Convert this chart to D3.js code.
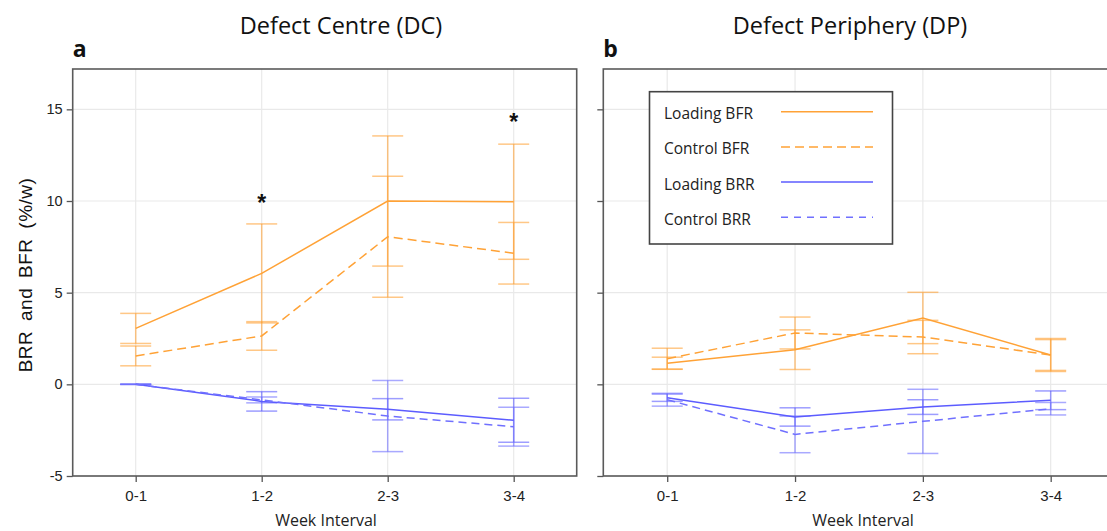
<!DOCTYPE html>
<html><head><meta charset="utf-8">
<script src="https://cdn.jsdelivr.net/npm/d3@7"></script>
<style>body{margin:0;background:#fff}svg{display:block}</style>
</head><body>
<svg id="c" width="1107" height="531"></svg>
<script>
const weeks = ["0-1","1-2","2-3","3-4"];
const yTicks = [-5, 0, 5, 10, 15];
const seriesNames = ["Loading BFR","Control BFR","Loading BRR","Control BRR"];

// Defect Centre (DC)
const dcLoadingBFR = [3.05, 6.05, 10.0, 9.96];
const dcLoadingBFRErr = [0.82, 2.7, 3.55, 3.14];
const dcControlBFR = [1.55, 2.64, 8.05, 7.15];
const dcControlBFRErr = [0.54, 0.78, 3.3, 1.68];
const dcLoadingBRR = [0, -0.93, -1.36, -1.96];
const dcLoadingBRRErr = [0, 0.53, 0.58, 1.2];
const dcControlBRR = [0, -0.85, -1.73, -2.31];
const dcControlBRRErr = [0, 0.16, 1.94, 1.06];
const dcStarWeeks = ["1-2","3-4"];
const dcStarValues = [10.05, 14.45];

// Defect Periphery (DP)
const dpLoadingBFR = [1.15, 1.89, 3.62, 1.6];
const dpLoadingBFRErr = [0.33, 1.08, 1.4, 0.9];
const dpControlBFR = [1.4, 2.8, 2.58, 1.6];
const dpControlBFRErr = [0.57, 0.87, 0.91, 0.84];
const dpLoadingBRR = [-0.73, -1.78, -1.24, -0.87];
const dpLoadingBRRErr = [0.2, 0.5, 0.4, 0.51];
const dpControlBRR = [-0.84, -2.73, -2.02, -1.33];
const dpControlBRRErr = [0.35, 1.0, 1.75, 0.34];

const ORANGE = "#ffa236", BLUE = "#5c5cff";
const styles = [
  {color: ORANGE, dash: null},
  {color: ORANGE, dash: "9,5"},
  {color: BLUE, dash: null},
  {color: "#7070ff", dash: "8,5"}
];

const svg = d3.select("#c");
const y = d3.scaleLinear().domain([-5, 17.2]).range([476, 69]);

function panel(opts) {
  const x = d3.scaleLinear().domain([-0.5, 3.5]).range([opts.x0, opts.x1]);
  const g = svg.append("g");
  // grid
  g.append("g").selectAll("line").data(yTicks).join("line")
    .attr("x1", opts.x0).attr("x2", opts.x1)
    .attr("y1", d => y(d)).attr("y2", d => y(d))
    .attr("stroke", "#e9e9e9").attr("stroke-width", 1.2);
  g.append("g").selectAll("line").data(weeks).join("line")
    .attr("x1", (d,i) => x(i)).attr("x2", (d,i) => x(i))
    .attr("y1", y.range()[1]).attr("y2", y.range()[0])
    .attr("stroke", "#e9e9e9").attr("stroke-width", 1.2);

  // axes
  const ya = d3.axisLeft(y).tickValues(yTicks).tickSize(6).tickPadding(4)
    .tickFormat(opts.showYLabels ? (d => String(d)) : () => "");
  const yg = g.append("g").attr("transform", `translate(${opts.x0},0)`).call(ya);
  yg.select(".domain").remove();
  yg.selectAll("line").attr("stroke", "#555").attr("stroke-width", 1.3);
  yg.selectAll("text").attr("font-family", "Liberation Sans, Arial, sans-serif")
    .attr("font-size", 14.5).attr("fill", "#222");

  const xa = d3.axisBottom(x).tickValues(d3.range(weeks.length)).tickSize(6)
    .tickFormat(i => weeks[i]);
  const xg = g.append("g").attr("transform", `translate(0,476)`).call(xa);
  xg.select(".domain").remove();
  xg.selectAll("line").attr("stroke", "#555").attr("stroke-width", 1.3);
  xg.selectAll("text").attr("font-family", "Liberation Sans, Arial, sans-serif")
    .attr("font-size", 15).attr("fill", "#222").attr("dy", null).attr("y", 25);

  // frame
  g.append("rect").attr("x", opts.x0).attr("y", y.range()[1])
    .attr("width", opts.x1 - opts.x0).attr("height", y.range()[0] - y.range()[1])
    .attr("fill", "none").attr("stroke", "#5a5a5a").attr("stroke-width", 1.6);

  // error bars
  const cap = 15.5;
  opts.series.forEach((s, si) => {
    const st = styles[si];
    const eg = g.append("g").attr("stroke", st.color).attr("stroke-opacity", 0.6)
      .attr("stroke-width", 1.5).attr("fill", "none");
    s.vals.forEach((v, i) => {
      const e = s.err[i];
      eg.append("line").attr("x1", x(i)).attr("x2", x(i))
        .attr("y1", y(v + e)).attr("y2", y(v - e));
      [v + e, v - e].forEach(b => {
        eg.append("line").attr("x1", x(i) - cap).attr("x2", x(i) + cap)
          .attr("y1", y(b)).attr("y2", y(b));
      });
    });
  });
  // lines
  opts.series.forEach((s, si) => {
    const st = styles[si];
    g.append("path").datum(s.vals)
      .attr("d", d3.line().x((d, i) => x(i)).y(d => y(d)))
      .attr("fill", "none").attr("stroke", st.color).attr("stroke-width", 1.5)
      .attr("stroke-dasharray", st.dash);
  });

  // stars
  if (opts.stars) {
    g.selectAll("text.star").data(opts.stars).join("text").attr("class", "star")
      .attr("x", d => x(weeks.indexOf(d.w))).attr("y", d => y(d.v) + 11)
      .attr("text-anchor", "middle").attr("font-family", "Liberation Sans, Arial, sans-serif")
      .attr("font-weight", "bold").attr("font-size", 23).attr("fill", "#111").text("*");
  }

  // titles
  svg.append("text").attr("x", opts.titleX).attr("y", 34).attr("text-anchor", "middle")
    .attr("font-family", "Open Sans, sans-serif").attr("font-size", 23.5).attr("fill", "#111")
    .text(opts.title);
  svg.append("text").attr("x", opts.x0).attr("y", 57)
    .attr("font-family", "Open Sans, sans-serif").attr("font-weight", "bold")
    .attr("font-size", 23).attr("fill", "#111").text(opts.letter);
  svg.append("text").attr("x", opts.labelX).attr("y", 526).attr("text-anchor", "middle")
    .attr("font-family", "Open Sans, sans-serif").attr("font-size", 16).attr("fill", "#222")
    .text("Week Interval");
  return x;
}

panel({
  x0: 72.7, x1: 576.7, showYLabels: true, title: "Defect Centre (DC)", titleX: 341,
  letter: "a", labelX: 326,
  series: [
    {vals: dcLoadingBFR, err: dcLoadingBFRErr},
    {vals: dcControlBFR, err: dcControlBFRErr},
    {vals: dcLoadingBRR, err: dcLoadingBRRErr},
    {vals: dcControlBRR, err: dcControlBRRErr}
  ],
  stars: dcStarWeeks.map((w, i) => ({w, v: dcStarValues[i]}))
});

panel({
  x0: 603.3, x1: 1114.6, showYLabels: false, title: "Defect Periphery (DP)", titleX: 850,
  letter: "b", labelX: 863,
  series: [
    {vals: dpLoadingBFR, err: dpLoadingBFRErr},
    {vals: dpControlBFR, err: dpControlBFRErr},
    {vals: dpLoadingBRR, err: dpLoadingBRRErr},
    {vals: dpControlBRR, err: dpControlBRRErr}
  ]
});

// y-axis label
svg.append("text").attr("transform", "translate(32,275) rotate(-90)")
  .attr("text-anchor", "middle").attr("font-family", "Liberation Sans, Arial, sans-serif")
  .attr("font-size", 19).attr("fill", "#111").attr("word-spacing", 4).attr("letter-spacing", 0.5)
  .text("BRR and BFR (%/w)");

// legend
const lg = svg.append("g");
lg.append("rect").attr("x", 649.5).attr("y", 91.7).attr("width", 243).attr("height", 152.3)
  .attr("fill", "#fff").attr("stroke", "#444").attr("stroke-width", 1.6);
seriesNames.forEach((name, i) => {
  const yy = 111.7 + i * 35.2;
  lg.append("text").attr("x", 664).attr("y", yy + 7.5)
    .attr("font-family", "Open Sans, sans-serif").attr("font-size", 15.5).attr("fill", "#222")
    .text(name);
  lg.append("line").attr("x1", 781).attr("x2", 873).attr("y1", yy).attr("y2", yy)
    .attr("stroke", styles[i].color).attr("stroke-width", 1.5)
    .attr("stroke-dasharray", i === 1 ? "9,5" : i === 3 ? "7,6" : null);
});
</script>
</body></html>
